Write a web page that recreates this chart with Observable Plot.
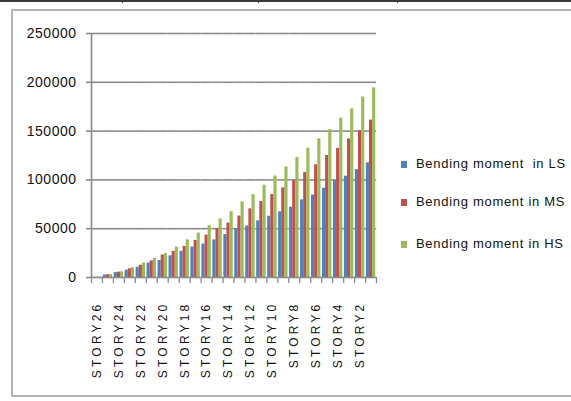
<!DOCTYPE html>
<html>
<head>
<meta charset="utf-8">
<script src="https://cdn.jsdelivr.net/npm/d3@7"></script>
<script src="https://cdn.jsdelivr.net/npm/@observablehq/plot@0.6"></script>
<style>
  html, body { margin: 0; padding: 0; background: #fff; }
  #page { position: relative; width: 571px; height: 401px; overflow: hidden; font-family: "Liberation Sans", Arial, sans-serif; }
  #topline { position: absolute; left: 0; top: 0; width: 571px; height: 0; border-top: 2px solid #3a3a3a; }
  .sep { position: absolute; top: 0; width: 1px; height: 3px; background: #3a3a3a; }
  #box { position: absolute; left: 11px; top: 9px; width: 600px; height: 388px; border: 2px solid #b4b4b4; box-sizing: border-box; }
  #chart { position: absolute; left: 0; top: 0; }
  #chart svg g[aria-label="fx-axis tick label"] text { letter-spacing: 3.2px; font-size: 12px; }
  #chart svg g[aria-label="y-axis tick"] path { stroke: #8a8a8a; stroke-width: 1.6px; }
  #legend { position: absolute; left: 401px; top: 0; font-size: 13px; letter-spacing: 0.7px; color: #111; }
  .item { position: absolute; left: 0; white-space: pre; line-height: 14px; }
  .sw { position: absolute; left: 0; top: 4px; width: 6px; height: 7px; }
  .lab { position: absolute; left: 15px; top: 0; }
</style>
</head>
<body>
<div id="page">
  <div id="topline"></div>
  <div class="sep" style="left:122px"></div>
  <div class="sep" style="left:258px"></div>
  <div class="sep" style="left:397px"></div>
  <div id="box"></div>
  <div id="chart"></div>
  <div id="legend"></div>
</div>
<script>
// Stories from the top floor down to the first floor
const stories = ["STORY26","STORY25","STORY24","STORY23","STORY22","STORY21","STORY20","STORY19",
  "STORY18","STORY17","STORY16","STORY15","STORY14","STORY13","STORY12","STORY11","STORY10",
  "STORY9","STORY8","STORY7","STORY6","STORY5","STORY4","STORY3","STORY2","STORY1"];

// Bending moment per story for the three soil types
const ls = [200, 2500, 5000, 7500, 10500, 14800, 17500, 22300, 26800, 31300, 34300, 38500, 44000,
  49800, 52800, 58000, 62800, 67300, 72000, 79500, 84500, 91500, 99500, 103800, 110500, 117500];
const ms = [300, 2800, 5500, 9000, 12500, 17000, 23000, 26800, 31800, 38000, 43500, 50300, 55800,
  63000, 70300, 77800, 85000, 91800, 99500, 107500, 115500, 125000, 132300, 142000, 150500, 161300];
const hs = [400, 3000, 5800, 10000, 14800, 19500, 24500, 31200, 38500, 45500, 53000, 60000, 67500,
  77500, 84800, 94500, 104000, 113300, 123000, 132500, 142000, 151500, 163300, 172800, 185000, 194300];

const seriesKeys = ["LS", "MS", "HS"];
const seriesNames = ["Bending moment  in LS", "Bending moment in MS", "Bending moment in HS"];
const seriesColors = ["#4f81bd", "#c0504d", "#9bbb59"];
const yTicks = [0, 50000, 100000, 150000, 200000, 250000];

const rows = [];
stories.forEach((s, i) => {
  rows.push({story: s, series: "LS", value: ls[i]});
  rows.push({story: s, series: "MS", value: ms[i]});
  rows.push({story: s, series: "HS", value: hs[i]});
});

const width = 571, height = 401;
const marginLeft = 91, marginRight = 195, marginTop = 33, marginBottom = 124;
const groupPad = 0.25;
// distance from the centre of a story's first bar band to the story's edge
const facetW = (width - marginLeft - marginRight) / stories.length;
const step = facetW / (seriesKeys.length + 2 * groupPad);
const edge = step * (groupPad + 0.5);
const axisGray = "#8a8a8a";

const chart = Plot.plot({
  width, height, marginLeft, marginRight, marginTop, marginBottom,
  style: {background: "transparent", fontFamily: "Liberation Sans, Arial, sans-serif", fontSize: "11px", color: "#111", overflow: "visible"},
  fx: {domain: stories, padding: 0, round: false, label: null, tickSize: 0, tickPadding: 24, tickRotate: -90,
       tickFormat: d => stories.indexOf(d) % 2 === 0 ? d : ""},
  x: {domain: seriesKeys, axis: null, round: false, paddingInner: 0, paddingOuter: groupPad},
  y: {domain: [0, 250000], ticks: yTicks, tickSize: 5, tickPadding: 10, label: null, tickFormat: d => String(d)},
  color: {domain: seriesKeys, range: seriesColors},
  marks: [
    Plot.ruleY(yTicks.slice(1), {stroke: axisGray, strokeWidth: 1.6}),
    Plot.barY(rows, {fx: "story", x: "series", y: "value", fill: "series"}),
    Plot.ruleY([0], {stroke: axisGray, strokeWidth: 1.6}),
    // value axis line at the left edge of the first story
    Plot.ruleX([stories[0]], {fx: d => d, x: () => "LS", dx: -edge, y1: 0, y2: 250000, stroke: axisGray, strokeWidth: 1.6}),
    // category boundary ticks under the baseline
    Plot.ruleX(stories, {fx: d => d, x: () => "LS", dx: -edge, y1: 0, y2: 0, insetBottom: -6, stroke: axisGray, strokeWidth: 1.3}),
    Plot.ruleX([stories[stories.length - 1]], {fx: d => d, x: () => "HS", dx: edge, y1: 0, y2: 0, insetBottom: -6, stroke: axisGray, strokeWidth: 1.3})
  ]
});

d3.select(chart).selectAll('g[aria-label="y-axis tick label"] text')
  .style("font-size", "14px").style("letter-spacing", "0.5px");
document.getElementById("chart").appendChild(chart);

// legend beside the plot
const legendTops = [157, 195, 237];
const legend = d3.select("#legend");
seriesNames.forEach((name, i) => {
  const item = legend.append("div").attr("class", "item").style("top", legendTops[i] + "px");
  item.append("div").attr("class", "sw").style("background", seriesColors[i]);
  item.append("div").attr("class", "lab").text(name);
});
</script>
</body>
</html>
